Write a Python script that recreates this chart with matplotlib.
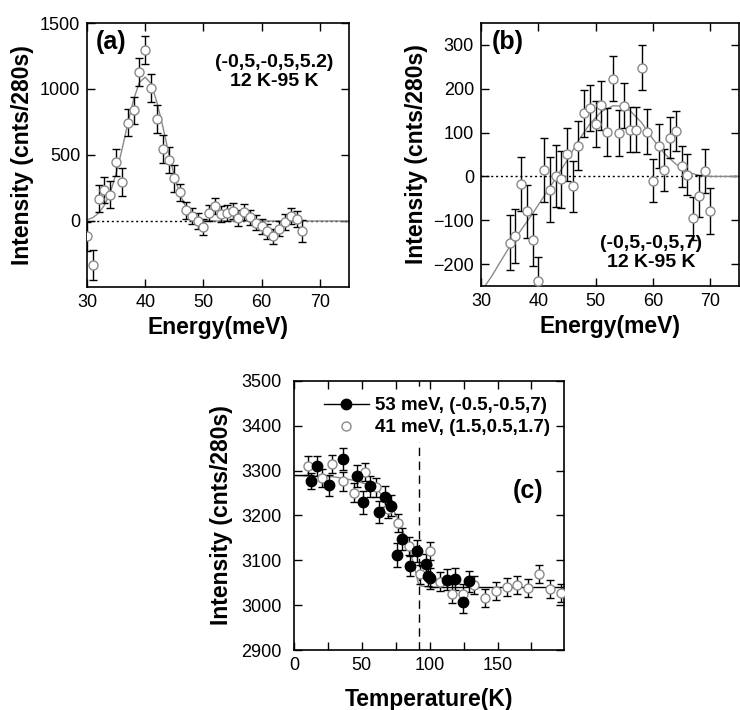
import numpy as np
import matplotlib
matplotlib.use('Agg')
from matplotlib import pyplot as plt
from matplotlib.ticker import MultipleLocator
from matplotlib.lines import Line2D

plt.rcParams['font.family'] = ['Liberation Sans', 'DejaVu Sans']
plt.rcParams['xtick.direction'] = 'in'
plt.rcParams['ytick.direction'] = 'in'
plt.rcParams['xtick.top'] = True
plt.rcParams['ytick.right'] = True

# ---- panel (a): (-0,5,-0,5,5.2), 12 K - 95 K difference
a_energy = [30, 31, 32, 33, 34, 35, 36, 37, 38, 39, 40, 41, 42, 43, 44, 45, 46, 47, 48,
            49, 50, 51, 52, 53, 54, 55, 56, 57, 58, 59, 60, 61, 62, 63, 64, 65, 66, 67]
a_int = [-117, -332, 170, 233, 200, 444, 297, 746, 838, 1129, 1294, 1008, 774, 548, 462,
         322, 216, 81, 36, -3, -46, 63, 114, 53, 63, 76, 23, 71, 28, -13, -41, -79, -117,
         -58, -8, 38, 18, -76]
a_err = [110, 115, 105, 100, 100, 105, 105, 105, 103, 105, 108, 105, 108, 105, 100, 100,
         67, 65, 60, 60, 60, 60, 60, 60, 60, 60, 60, 60, 58, 58, 58, 58, 58, 58, 60, 60,
         60, 81]
a_fit_e = [30, 31, 32, 33, 34, 35, 36, 37, 38, 39, 40, 41, 42, 43, 44, 45, 46, 47, 48,
           49, 50, 52, 75]
a_fit_i = [10, 25, 60, 120, 215, 360, 540, 740, 920, 1050, 1090, 1040, 900, 720, 520,
           340, 200, 105, 50, 20, 8, 0, 0]

# ---- panel (b): (-0,5,-0,5,7), 12 K - 95 K difference
b_energy = list(range(35, 71))
b_int = [-151, -136, -17, -80, -145, -239, 14, -30, 1, -7, 50, -23, 70, 144, 156, 120,
         162, 101, 223, 99, 161, 107, 107, 248, 102, -10, 70, 15, 88, 104, 23, 4, -96,
         -45, 12, -79]
b_err = [62, 61, 61, 60, 60, 55, 73, 75, 70, 64, 60, 58, 56, 54, 53, 53, 55, 54, 52,
         52, 51, 52, 52, 51, 51, 49, 50, 48, 47, 46, 47, 47, 48, 48, 50, 52]
b_fit_e = [30.7, 32, 33, 35, 37, 39, 41, 43, 45, 47, 49, 51, 53, 54, 56, 58, 60, 62, 64,
           66, 68, 70, 75]
b_fit_i = [-250, -225, -203, -160, -122, -85, -45, -5, 36, 82, 120, 148, 161, 161, 150,
           123, 85, 52, 28, 10, 2, 0, 0]

# ---- panel (c): temperature dependence
c53_T = [12.4, 16.6, 26, 36, 46.4, 51, 56.3, 62.5, 67.4, 71.7, 75.6, 79.8, 85.5, 91,
         97.4, 98.9, 100.4, 113, 118.8, 124.5, 128.7]
c53_I = [3276, 3311, 3267, 3326, 3288, 3229, 3265, 3208, 3242, 3222, 3112, 3147, 3087,
         3121, 3091, 3066, 3060, 3057, 3058, 3006, 3053]
c53_err = [18, 22, 23, 25, 24, 25, 24, 24, 24, 23, 26, 24, 23, 24, 24, 23, 23, 24, 24,
           24, 24]
c41_T = [10.4, 20.8, 28, 36.4, 44, 52.6, 60.5, 69, 76.4, 84.8, 92.5, 100.4, 107.9,
         116.5, 124.5, 132.7, 140.6, 148.5, 156.7, 164.6, 172.8, 180.8, 189, 197]
c41_I = [3311, 3284, 3314, 3276, 3251, 3297, 3263, 3214, 3184, 3132, 3069, 3121, 3052,
         3026, 3026, 3046, 3016, 3031, 3041, 3045, 3039, 3069, 3037, 3028]
c41_err = [21, 20, 20, 22, 22, 21, 21, 20, 20, 20, 21, 20, 21, 21, 21, 20, 20, 20, 20,
           21, 20, 20, 20, 20]
c_fit_T = [0, 15, 30, 45, 55, 62, 68, 73, 77, 81, 85, 88, 90, 91.5, 93, 100, 110]
c_fit_I = [3289, 3288, 3286, 3278, 3268, 3255, 3236, 3213, 3190, 3160, 3125, 3095, 3070,
           3050, 3043, 3040, 3040]
c_low_T = [0, 14]
c_low_I = [3291, 3291]
c_high_T = [100, 199]
c_high_I = [3040, 3040]
Tc = 92

labels_c = ['53 meV, (-0.5,-0.5,7)', '41 meV, (1.5,0.5,1.7)']

gray = '#8a8a8a'
tick_fs = 13
lab_fs = 16.5


def style_axes(ax, pad=5):
    ax.tick_params(which='both', length=6, width=1, labelsize=tick_fs, pad=pad)
    for s in ax.spines.values():
        s.set_linewidth(1.2)


def draw_diff(ax, e, i, err, fe, fi):
    ax.axhline(0, color='k', ls=(0, (1.5, 2)), lw=1, zorder=1)
    ax.plot(fe, fi, color=gray, lw=1, zorder=2)
    ax.errorbar(e, i, yerr=err, fmt='none', ecolor='k', elinewidth=1, capsize=3,
                capthick=1, zorder=3)
    ax.plot(e, i, 'o', ms=6.5, mfc='white', mec=gray, mew=1, zorder=4)


fig = plt.figure(figsize=(7.4, 7.1), dpi=100)

# (a)
ax1 = fig.add_axes([0.1176, 0.5958, 0.354, 0.3718])
draw_diff(ax1, a_energy, a_int, a_err, a_fit_e, a_fit_i)
ax1.set_xlim(30, 75)
ax1.set_ylim(-500, 1500)
ax1.set_xticks([30, 40, 50, 60, 70])
ax1.set_yticks([0, 500, 1000, 1500])
style_axes(ax1)
ax1.set_xlabel('Energy(meV)', fontsize=lab_fs, fontweight='bold', labelpad=4)
ax1.set_ylabel('Intensity (cnts/280s)', fontsize=lab_fs, fontweight='bold', labelpad=4)
ax1.text(0.035, 0.975, '(a)', transform=ax1.transAxes, fontsize=18, fontweight='bold',
         ha='left', va='top')
ax1.text(0.714, 0.852, '(-0,5,-0,5,5.2)', transform=ax1.transAxes, fontsize=14,
         fontweight='bold', ha='center', va='center')
ax1.text(0.714, 0.777, '12 K-95 K', transform=ax1.transAxes, fontsize=14,
         fontweight='bold', ha='center', va='center')

# (b)
ax2 = fig.add_axes([0.65, 0.5972, 0.3486, 0.3704])
draw_diff(ax2, b_energy, b_int, b_err, b_fit_e, b_fit_i)
ax2.set_xlim(30, 75)
ax2.set_ylim(-250, 350)
ax2.set_xticks([30, 40, 50, 60, 70])
ax2.set_yticks([-200, -100, 0, 100, 200, 300])
style_axes(ax2)
ax2.set_xlabel('Energy(meV)', fontsize=lab_fs, fontweight='bold', labelpad=4)
ax2.set_ylabel('Intensity (cnts/280s)', fontsize=lab_fs, fontweight='bold', labelpad=4)
ax2.text(0.043, 0.975, '(b)', transform=ax2.transAxes, fontsize=18, fontweight='bold',
         ha='left', va='top')
ax2.text(0.659, 0.163, '(-0,5,-0,5,7)', transform=ax2.transAxes, fontsize=14,
         fontweight='bold', ha='center', va='center')
ax2.text(0.659, 0.091, '12 K-95 K', transform=ax2.transAxes, fontsize=14,
         fontweight='bold', ha='center', va='center')

# (c)
ax3 = fig.add_axes([0.3973, 0.0845, 0.3649, 0.3789])
ax3.axvline(Tc, color='k', ls=(0, (6, 4)), lw=1, zorder=1)
ax3.plot(c_fit_T, c_fit_I, color=gray, lw=1, zorder=2)
ax3.plot(c_low_T, c_low_I, color='k', lw=1, zorder=2)
ax3.plot(c_high_T, c_high_I, color='k', lw=1, zorder=2)
ax3.errorbar(c41_T, c41_I, yerr=c41_err, fmt='none', ecolor='k', elinewidth=1,
             capsize=3, capthick=1, zorder=3)
ax3.plot(c41_T, c41_I, 'o', ms=6.5, mfc='white', mec=gray, mew=1, zorder=4)
ax3.errorbar(c53_T, c53_I, yerr=c53_err, fmt='none', ecolor='k', elinewidth=1,
             capsize=3, capthick=1, zorder=3)
ax3.plot(c53_T, c53_I, 'o', ms=7.5, mfc='k', mec='k', zorder=5)
ax3.set_xlim(0, 199)
ax3.set_ylim(2900, 3500)
ax3.set_xticks([0, 50, 100, 150])
ax3.xaxis.set_minor_locator(MultipleLocator(25))
ax3.set_yticks(np.arange(2900, 3501, 100))
style_axes(ax3, pad=9)
ax3.tick_params(axis='x', pad=5)
ax3.set_xlabel('Temperature(K)', fontsize=lab_fs, fontweight='bold', labelpad=10)
ax3.set_ylabel('Intensity (cnts/280s)', fontsize=lab_fs, fontweight='bold', labelpad=6)
ax3.text(0.868, 0.591, '(c)', transform=ax3.transAxes, fontsize=18, fontweight='bold',
         ha='center', va='center')
handles = [Line2D([], [], color='k', lw=1, marker='o', ms=7.5, mfc='k', mec='k'),
           Line2D([], [], ls='none', marker='o', ms=6.5, mfc='white', mec=gray, mew=1)]
leg = ax3.legend(handles, labels_c, loc='upper left', bbox_to_anchor=(0.09, 0.96),
                 borderaxespad=0, borderpad=0.3, handlelength=2.4, handletextpad=0.3,
                 labelspacing=0.25, prop={'size': 13.5, 'weight': 'bold'},
                 frameon=True, fancybox=False)
leg.get_frame().set_facecolor('white')
leg.get_frame().set_edgecolor('none')
leg.get_frame().set_alpha(1)
leg.set_zorder(10)

fig.savefig('out.png', dpi=100)
